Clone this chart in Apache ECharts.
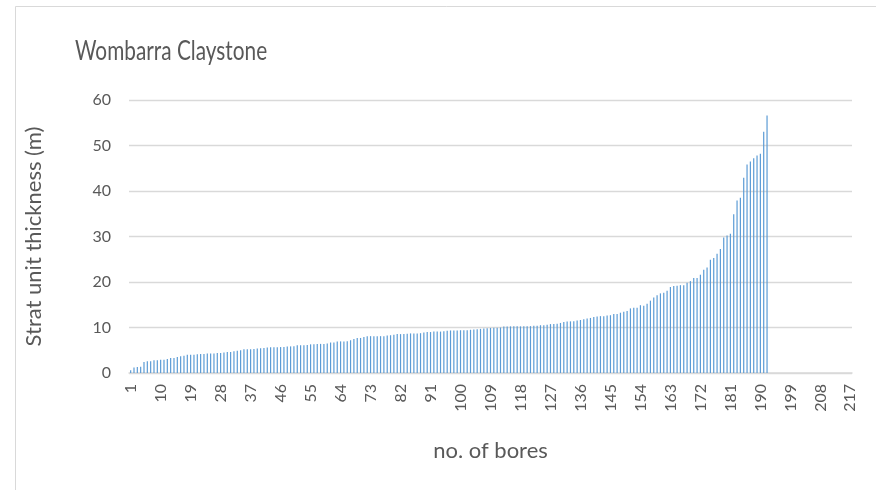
<!DOCTYPE html>
<html lang="en">
<head>
    <meta charset="UTF-8">
    <title>Wombarra Claystone</title>
    <script src="https://cdn.jsdelivr.net/npm/echarts@6/dist/echarts.min.js"></script>
    <style>
        html, body { margin: 0; padding: 0; background: #fff; }
        #chart { width: 876px; height: 490px; }
    </style>
</head>
<body>
    <div id="chart"></div>
    <script>
        // bore numbers shown on the x axis (1..217), label every 9th
        var boreCount = 217;
        var bores = [];
        for (var i = 1; i <= boreCount; i++) bores.push(String(i));

        // strat unit thickness (m), sorted ascending
        var thickness = [
            0.6, 1.2, 1.3, 1.4, 2.4, 2.6, 2.6, 2.8, 2.8, 2.9,
            2.9, 3.1, 3.3, 3.3, 3.5, 3.7, 3.8, 4.0, 4.0, 4.0,
            4.1, 4.2, 4.2, 4.3, 4.3, 4.3, 4.4, 4.4, 4.5, 4.6,
            4.6, 4.8, 4.9, 5.0, 5.2, 5.2, 5.2, 5.3, 5.4, 5.45,
            5.5, 5.6, 5.65, 5.65, 5.65, 5.7, 5.7, 5.85, 5.85, 5.9,
            6.1, 6.1, 6.1, 6.15, 6.3, 6.3, 6.4, 6.4, 6.4, 6.5,
            6.7, 6.7, 6.9, 6.95, 6.95, 7.0, 7.2, 7.5, 7.7, 7.7,
            7.9, 8.1, 8.1, 8.1, 8.1, 8.1, 8.1, 8.25, 8.3, 8.4,
            8.55, 8.55, 8.55, 8.6, 8.7, 8.7, 8.7, 8.75, 8.9, 9.0,
            9.0, 9.1, 9.1, 9.1, 9.2, 9.3, 9.35, 9.35, 9.35, 9.4,
            9.4, 9.4, 9.5, 9.55, 9.6, 9.7, 9.8, 9.85, 9.9, 9.95,
            9.95, 10.0, 10.2, 10.2, 10.25, 10.25, 10.25, 10.25, 10.25, 10.3,
            10.3, 10.4, 10.4, 10.5, 10.5, 10.6, 10.75, 10.75, 10.8, 11.0,
            11.2, 11.3, 11.35, 11.4, 11.55, 11.65, 11.8, 12.0, 12.1, 12.3,
            12.4, 12.5, 12.5, 12.65, 12.7, 12.95, 12.95, 13.25, 13.45, 13.65,
            14.2, 14.35, 14.35, 14.9, 14.8, 15.2, 15.9, 16.6, 17.1, 17.5,
            17.65, 18.1, 18.9, 19.1, 19.2, 19.3, 19.3, 19.85, 20.2, 20.9,
            20.9, 21.6, 22.7, 23.2, 24.9, 25.3, 26.2, 27.25, 29.8, 30.2,
            30.6, 34.9, 37.9, 38.5, 42.9, 45.8, 46.5, 47.2, 47.8, 48.2,
            53.0, 56.6
        ];

        var yTicks = { min: 0, max: 60, interval: 10 };

        var textColor = '#595959';
        var gridColor = '#D9D9D9';
        var font = 'Lato, "Open Sans", sans-serif';

        var chart = echarts.init(document.getElementById('chart'), null, { renderer: 'canvas' });

        var option = {
            animation: false,
            backgroundColor: '#fff',
            textStyle: { fontFamily: font },
            graphic: [{
                // outer chart frame (only top and left edges are visible)
                type: 'rect',
                shape: { x: 15.5, y: 6.5, width: 1000, height: 600 },
                style: { fill: 'none', stroke: gridColor, lineWidth: 1 },
                silent: true
            }, {
                // chart title, narrowed a little to look like the original's light face
                type: 'text',
                x: 75,
                y: 52,
                scaleX: 0.8,
                silent: true,
                style: {
                    text: 'Wombarra Claystone',
                    fill: textColor,
                    fontSize: 26,
                    fontFamily: font,
                    align: 'left',
                    verticalAlign: 'middle'
                }
            }],
            grid: { left: 129, right: 24, top: 100, bottom: 117 },
            xAxis: {
                type: 'category',
                data: bores,
                name: 'no. of bores',
                nameLocation: 'middle',
                nameGap: 67,
                nameTextStyle: { color: textColor, fontSize: 22, fontFamily: font },
                axisLine: { lineStyle: { color: gridColor, width: 1.5 } },
                axisTick: { show: false },
                axisLabel: {
                    interval: 8,
                    rotate: 90,
                    margin: 11,
                    color: textColor,
                    fontSize: 16,
                    fontFamily: font
                }
            },
            yAxis: {
                type: 'value',
                min: yTicks.min,
                max: yTicks.max,
                interval: yTicks.interval,
                name: 'Strat unit thickness (m)',
                nameLocation: 'middle',
                nameGap: 84,
                nameTextStyle: { color: textColor, fontSize: 22, fontFamily: font },
                axisLine: { show: false },
                axisTick: { show: false },
                axisLabel: { color: textColor, fontSize: 16, margin: 18, fontFamily: font },
                splitLine: { lineStyle: { color: gridColor, width: 1.3 } }
            },
            series: [{
                type: 'bar',
                data: thickness,
                barWidth: 1.2,
                itemStyle: { color: '#5B9BD5' }
            }]
        };

        chart.setOption(option);
    </script>
</body>
</html>
